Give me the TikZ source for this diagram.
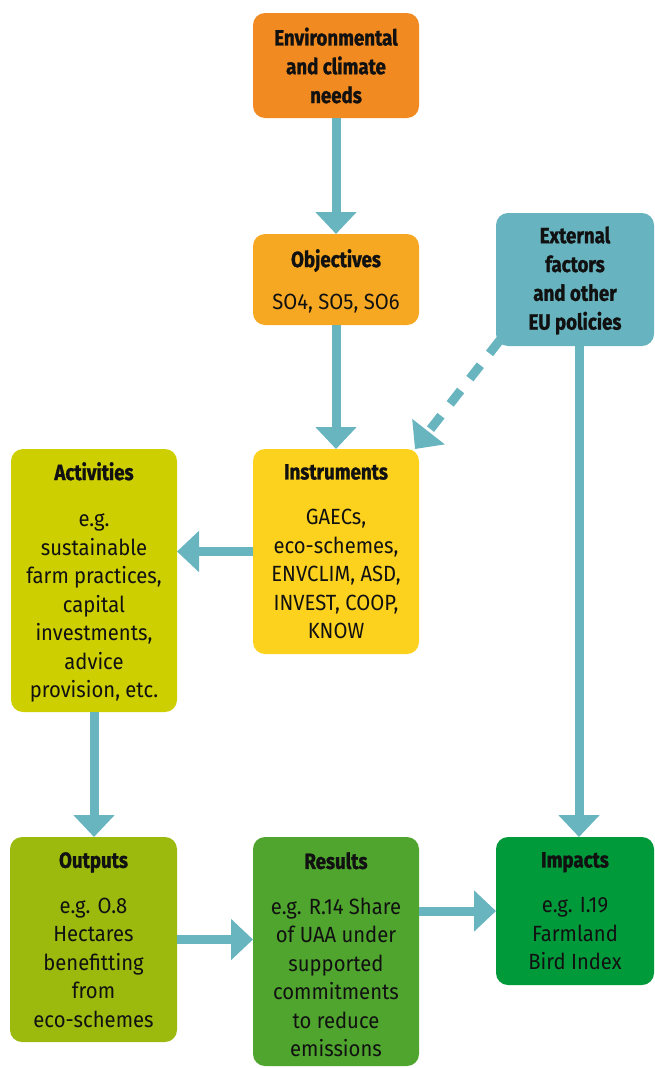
\documentclass[tikz,border=0pt]{standalone}
\usepackage{fontspec}
\setmainfont{Fira Sans}[FakeStretch=0.92, BoldFeatures={FakeStretch=0.85, FakeBold=1.2}]
\usetikzlibrary{arrows.meta,calc}

\definecolor{cEnv}{HTML}{F28A22}
\definecolor{cObj}{HTML}{F6A823}
\definecolor{cInst}{HTML}{FDD21F}
\definecolor{cAct}{HTML}{CDCF00}
\definecolor{cOut}{HTML}{9CBA0E}
\definecolor{cRes}{HTML}{4FA52E}
\definecolor{cImp}{HTML}{009A3B}
\definecolor{cExt}{HTML}{67B4C0}
\definecolor{cFlow}{HTML}{68B5C0}
\definecolor{cInk}{HTML}{111111}

\begin{document}
\begin{tikzpicture}[x=1pt, y=-1pt,
  box/.style={rounded corners=12pt, inner sep=0pt, outer sep=0pt, draw=none},
  txt/.style={align=center, inner sep=0pt, text=cInk,
              font=\fontsize{22}{28.5}\selectfont},
  head/.style={txt, font=\bfseries\fontsize{22}{28.8}\selectfont},
  flow/.style={draw=cFlow, line width=9pt,
               -{Triangle[width=40pt, length=22pt]}},
  dashflow/.style={flow, dash pattern=on 17pt off 15pt}
]
\useasboundingbox (0,0) rectangle (654,1068);

% boxes
\node[box, fill=cEnv,  minimum width=166pt, minimum height=105pt] (env)  at (336,65.5) {};
\node[box, fill=cObj,  minimum width=166pt, minimum height=91pt]  (obj)  at (336,279.5) {};
\node[box, fill=cExt,  minimum width=158pt, minimum height=133pt] (ext)  at (575,279.5) {};
\node[box, fill=cInst, minimum width=166pt, minimum height=205pt] (inst) at (336,551.5) {};
\node[box, fill=cAct,  minimum width=166pt, minimum height=263pt] (act)  at (94,580.5) {};
\node[box, fill=cOut,  minimum width=167pt, minimum height=205pt] (out)  at (93.5,939.5) {};
\node[box, fill=cRes,  minimum width=166pt, minimum height=229pt] (res)  at (336,951.5) {};
\node[box, fill=cImp,  minimum width=158pt, minimum height=148pt] (imp)  at (575,911) {};

% texts
\node[head] (envT) at (env) {Environmental\\and climate\\needs};
\node[head] (extT) at ($(ext)+(0,1)$) {External\\factors\\and other\\EU policies};
\node[txt, anchor=north] (objT) at ($(obj.north)+(0,15)$)
  {\textbf{Objectives}\\[14pt]SO4, SO5, SO6};
\node[txt, anchor=north] (instT) at ($(inst.north)+(0,15)$)
  {\textbf{Instruments}\\[17pt]GAECs,\\eco-schemes,\\ENVCLIM, ASD,\\INVEST, COOP,\\KNOW};
\node[txt, anchor=north] (actT) at ($(act.north)+(0,13)$)
  {\textbf{Activities}\\[18pt]e.g.\\sustainable\\farm practices,\\capital\\investments,\\advice\\provision, etc.};
\node[txt, anchor=north] (outT) at ($(out.north)+(0,15)$)
  {\textbf{Outputs}\\[17pt]e.g. O.8\\Hectares\\benefitting\\from\\eco-schemes};
\node[txt, anchor=north] (resT) at ($(res.north)+(0,15)$)
  {\textbf{Results}\\[17pt]e.g. R.14 Share\\of UAA under\\supported\\commitments\\to reduce\\emissions};
\node[txt, anchor=north] (impT) at ($(imp.north)+(0,15)$)
  {\textbf{Impacts}\\[17pt]e.g. I.19\\Farmland\\Bird Index};

% connectors
\draw[flow] (env) -- (obj);
\draw[flow] (obj) -- (inst);
\draw[flow] (inst.west) -- (inst.west -| act.east);
\draw[flow] (act.south) -- (act.south |- out.north);
\draw[flow] (out.east) -- (out.east -| res.west);
\draw[flow] (imp.west -| res.east) -- (imp.west);
\draw[flow] ($(ext.south)+(4,0)$) -- ($(imp.north)+(4,0)$);
\draw[dashflow] ($(ext.south west)+(4,-6)$) -- ($(inst.north east)+(-4,0)$);
\end{tikzpicture}
\end{document}
